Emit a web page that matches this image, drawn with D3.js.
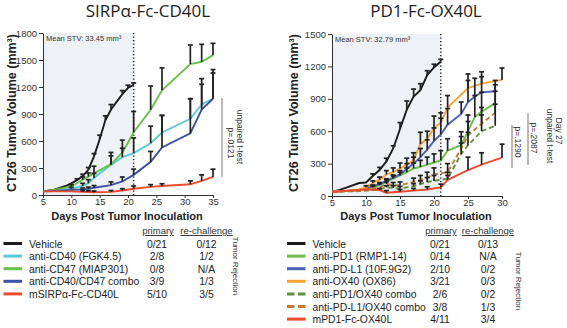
<!DOCTYPE html>
<html>
<head>
<meta charset="utf-8">
<script src="https://cdn.jsdelivr.net/npm/d3@7"></script>
<style>
body { margin: 0; background: #fff; }
svg { display: block; font-family: "Liberation Sans", Arial, sans-serif; }
.axis path, .axis line { stroke: #333; }
.axis text { fill: #333; font-size: 9.5px; font-family: "Liberation Sans", Arial, sans-serif; }
</style>
</head>
<body>
<svg width="567" height="328"></svg>
<script>
// ---- left panel: SIRPa-Fc-CD40L ----
var lDays = [5, 7, 10, 12, 13, 14, 17, 19, 21, 24, 26, 31, 33, 35];
var lVehicleDays = [5, 7, 9, 10, 11, 12, 13, 14, 15, 16, 17, 19, 20, 21];
var lVehicle = [40, 60, 100, 130, 165, 210, 280, 430, 620, 830, 950, 1120, 1190, 1225];
var lVehicleErr = [4, 6, 8, 10, 15, 20, 25, 30, 45, 50, 55, 40, 30, 20];
var lCD40 = [40, 50, 70, 100, 130, 190, 335, 420, 465, 575, 695, 846, 1006, 1070];
var lCD40Err = [3, 5, 15, 30, 40, 50, 100, 100, 170, 190, 190, 224, 287, 324];
var lCD47 = [40, 55, 95, 170, 205, 240, 343, 470, 697, 947, 1163, 1455, 1480, 1554];
var lCD47Err = [3, 6, 20, 30, 40, 80, 130, 140, 231, 264, 249, 211, 194, 131];
var lCombo = [40, 45, 55, 62, 68, 80, 110, 150, 224, 369, 529, 685, 950, 1070];
var lComboErr = [3, 5, 10, 15, 20, 25, 35, 50, 63, 115, 354, 385, 280, 286];
var lFusion = [40, 40, 40, 35, 33, 30, 35, 50, 70, 90, 100, 119, 157, 201];
var lFusionErr = [3, 5, 10, 15, 15, 15, 15, 20, 30, 25, 25, 38, 67, 86];

var lLabels = ["Vehicle", "anti-CD40 (FGK4.5)", "anti-CD47 (MIAP301)", "anti-CD40/CD47 combo", "mSIRP\u03b1-Fc-CD40L"];
var lPrimary = ["0/21", "2/8", "0/8", "3/9", "5/10"];
var lRechallenge = ["0/12", "1/2", "N/A", "1/3", "3/5"];

// ---- right panel: PD1-Fc-OX40L ----
var rVehicleDays = [5, 6, 7, 9, 10, 11, 12, 13, 14, 15, 16, 17, 18, 19, 20, 21];
var rVehicle = [40, 55, 75, 120, 125, 185, 240, 320, 440, 620, 800, 920, 980, 1120, 1190, 1245];
var rVehicleErr = [4, 5, 8, 10, 10, 20, 25, 30, 25, 60, 80, 70, 60, 40, 30, 20];
var rDays = [5, 7, 9, 10, 11, 12, 13, 14, 15, 16, 17, 18, 19, 20, 21, 22, 24, 25, 26, 27, 29];
var rPD1 = [40, 45, 55, 65, 80, 100, 130, 160, 190, 220, 255, 270, 290, 310, 330, 420, 470, 600, 730, 780, 860];
var rPD1Err = [4, 5, 8, 10, 12, 15, 20, 25, 30, 40, 50, 60, 70, 80, 90, 110, 125, 150, 200, 180, 170];
var rPDL1 = [40, 45, 55, 70, 90, 110, 140, 170, 200, 250, 300, 360, 430, 510, 570, 660, 760, 870, 920, 960, 970];
var rPDL1Err = [4, 5, 8, 10, 12, 15, 20, 25, 35, 50, 60, 80, 90, 120, 150, 150, 110, 200, 170, 145, 100];
var rOX40Days = [5, 7, 9, 10, 11, 12, 13, 14, 15, 16, 17, 18, 19, 20, 21, 22, 25, 27, 30];
var rOX40 = [40, 45, 60, 80, 120, 150, 200, 220, 255, 290, 330, 480, 530, 630, 680, 820, 1000, 1040, 1075];
var rOX40Err = [4, 6, 10, 15, 20, 25, 35, 40, 50, 60, 70, 110, 70, 110, 90, 110, 130, 110, 110];
var rComboDays = [5, 9, 10, 12, 13, 14, 15, 17, 18, 19, 20, 22, 24, 25, 27, 29];
var rPD1OX40 = [40, 45, 50, 60, 80, 75, 70, 90, 110, 130, 140, 160, 390, 470, 600, 650];
var rPD1OX40Err = [3, 5, 8, 10, 15, 20, 20, 25, 30, 40, 50, 60, 100, 120, 150, 200];
var rPDL1OX40 = [40, 50, 60, 80, 110, 100, 100, 130, 150, 170, 200, 220, 440, 560, 670, 770];
var rPDL1OX40Err = [3, 5, 8, 10, 20, 25, 30, 35, 40, 50, 60, 80, 110, 130, 150, 200];
var rFusionDays = [5, 10, 12, 13, 15, 17, 19, 21, 22, 25, 27, 30];
var rFusion = [40, 60, 55, 30, 40, 50, 60, 80, 150, 240, 290, 355];
var rFusionErr = [3, 10, 15, 20, 20, 20, 25, 30, 40, 120, 110, 125];

var rLabels = ["Vehicle", "anti-PD1 (RMP1-14)", "anti-PD-L1 (10F.9G2)", "anti-OX40 (OX86)", "anti-PD1/OX40 combo", "anti-PD-L1/OX40 combo", "mPD1-Fc-OX40L"];
var rPrimary = ["0/21", "0/14", "2/10", "3/21", "2/6", "3/8", "4/11"];
var rRechallenge = ["0/13", "N/A", "0/2", "0/3", "0/2", "1/3", "3/4"];

var svg = d3.select("svg");

function makeSeries(days, vals, errs, color, dashed) {
  return { pts: days.map(function(d, i) { return { day: d, v: vals[i], e: errs[i] }; }), color: color, dashed: dashed };
}

var leftSeries = [
  makeSeries(lVehicleDays, lVehicle, lVehicleErr, "#1b1b1b", false),
  makeSeries(lDays, lCD40, lCD40Err, "#5ec8d8", false),
  makeSeries(lDays, lCD47, lCD47Err, "#6cbf4c", false),
  makeSeries(lDays, lCombo, lComboErr, "#3d50a5", false),
  makeSeries(lDays, lFusion, lFusionErr, "#ec4b2e", false)
];
var rightSeries = [
  makeSeries(rVehicleDays, rVehicle, rVehicleErr, "#1b1b1b", false),
  makeSeries(rDays, rPD1, rPD1Err, "#6cbf4c", false),
  makeSeries(rDays, rPDL1, rPDL1Err, "#4a60b5", false),
  makeSeries(rOX40Days, rOX40, rOX40Err, "#f7a336", false),
  makeSeries(rComboDays, rPD1OX40, rPD1OX40Err, "#5f923a", true),
  makeSeries(rComboDays, rPDL1OX40, rPDL1OX40Err, "#c47a3c", true),
  makeSeries(rFusionDays, rFusion, rFusionErr, "#ec4b2e", false)
];

function panel(o) {
  var x = d3.scaleLinear().domain(o.xDomain).range(o.xRange);
  var y = d3.scaleLinear().domain(o.yDomain).range(o.yRange);
  var g = svg.append("g");

  //shaded treatment window
  g.append("rect")
    .attr("x", x(o.xDomain[0])).attr("y", y(o.yDomain[1]))
    .attr("width", x(21) - x(o.xDomain[0]))
    .attr("height", y(0) - y(o.yDomain[1]))
    .attr("fill", "#eef1f5");

  g.append("g").attr("class", "axis")
    .attr("transform", "translate(0," + y(0) + ")")
    .call(d3.axisBottom(x).tickValues(d3.range(o.xDomain[0], o.xDomain[1] + 1, 5))
      .tickSize(3).tickPadding(0).tickSizeOuter(0).tickFormat(d3.format("d")));
  g.append("g").attr("class", "axis")
    .attr("transform", "translate(" + x(o.xDomain[0]) + ",0)")
    .call(d3.axisLeft(y).tickValues(d3.range(0, o.yDomain[1] + 1, 300))
      .tickSize(4).tickPadding(2).tickSizeOuter(0).tickFormat(d3.format("d")));

  //day 21 dotted line
  g.append("line")
    .attr("x1", x(21)).attr("x2", x(21))
    .attr("y1", y(o.yDomain[1])).attr("y2", y(0) + 2)
    .attr("stroke", "#222").attr("stroke-width", 1.5)
    .attr("stroke-dasharray", "1.3,2.2");

  g.append("text")
    .attr("x", x(o.xDomain[0]) + 3).attr("y", y(o.yDomain[1]) + 8)
    .attr("font-size", 7.5).attr("fill", "#333")
    .text(o.stv);

  var line = d3.line().x(function(d) { return x(d.day); }).y(function(d) { return y(d.v); });
  o.series.forEach(function(s) {
    g.append("path").datum(s.pts)
      .attr("d", line)
      .attr("fill", "none")
      .attr("stroke", s.color)
      .attr("stroke-width", 1.9)
      .attr("stroke-dasharray", s.dashed ? "5,3" : null);
  });

  //error bars (upper only)
  o.series.forEach(function(s) {
    var eb = g.append("g").attr("stroke", "#222").attr("stroke-width", 1.7);
    s.pts.forEach(function(p) {
      if (p.e < 12) return;
      eb.append("line")
        .attr("x1", x(p.day)).attr("x2", x(p.day))
        .attr("y1", y(p.v)).attr("y2", y(p.v + p.e));
      eb.append("line")
        .attr("x1", x(p.day) - 2.5).attr("x2", x(p.day) + 2.5)
        .attr("y1", y(p.v + p.e)).attr("y2", y(p.v + p.e));
    });
  });

  //titles
  svg.append("text")
    .attr("x", o.titleX).attr("y", 17)
    .attr("text-anchor", "middle")
    .style("font-family", "'Open Sans', sans-serif")
    .attr("font-size", 17).attr("fill", "#222")
    .text(o.title);
  svg.append("text")
    .attr("transform", "translate(" + o.yTitleX + "," + 113 + ") rotate(-90)")
    .attr("text-anchor", "middle")
    .attr("font-size", 12.5).attr("font-weight", "bold").attr("fill", "#222")
    .text("CT26 Tumor Volume (mm\u00b3)");
  svg.append("text")
    .attr("x", (o.xRange[0] + o.xRange[1]) / 2 - 1).attr("y", 220)
    .attr("text-anchor", "middle")
    .attr("font-size", 11).attr("font-weight", "bold").attr("fill", "#222")
    .text("Days Post Tumor Inoculation");
}

panel({
  xDomain: [5, 35], xRange: [43, 213],
  yDomain: [0, 1800], yRange: [195, 33],
  series: leftSeries,
  stv: "Mean STV: 33.45 mm\u00b3",
  title: "SIRP\u03b1-Fc-CD40L", titleX: 148, yTitleX: 15.5
});
panel({
  xDomain: [5, 30], xRange: [332, 502],
  yDomain: [0, 1500], yRange: [196, 34],
  series: rightSeries,
  stv: "Mean STV: 32.79 mm\u00b3",
  title: "PD1-Fc-OX40L", titleX: 426, yTitleX: 297.5
});

//significance notes (rotated text)
function vText(x, y, txt, size) {
  svg.append("text")
    .attr("transform", "translate(" + x + "," + y + ") rotate(90)")
    .attr("text-anchor", "middle")
    .attr("font-size", size || 8.5).attr("fill", "#333")
    .text(txt);
}
function vLine(x, y1, y2) {
  svg.append("line").attr("x1", x).attr("x2", x).attr("y1", y1).attr("y2", y2)
    .attr("stroke", "#777").attr("stroke-width", 1);
}
vLine(222, 98, 177);
vText(227.5, 143, "p=.0121");
vText(237, 137, "unpaired t-test");

vLine(528, 113, 165);
vText(531, 138, "p=.2087");
vLine(512, 125, 168);
vText(515, 142, "p=.1290");
vText(546.5, 136, "unpaired t-test");
vText(556, 131, "Day 27");

//legends
function legend(o) {
  var g = svg.append("g");
  var rowY = function(i) { return 243.5 + i * 12.6; };
  [["primary", o.primX], ["re-challenge", o.reX]].forEach(function(h) {
    g.append("text").attr("x", h[1]).attr("y", 234)
      .attr("text-anchor", "middle").attr("font-size", 9.5).attr("fill", "#333")
      .attr("text-decoration", "underline")
      .text(h[0]);
  });
  o.labels.forEach(function(lab, i) {
    var s = o.series[i];
    g.append("line")
      .attr("x1", o.x0).attr("x2", o.x0 + 18.5)
      .attr("y1", rowY(i)).attr("y2", rowY(i))
      .attr("stroke", s.color).attr("stroke-width", 3)
      .attr("stroke-dasharray", s.dashed ? "7.5,3.5" : null);
    g.append("text").attr("x", o.x0 + 25.5).attr("y", rowY(i) + 4)
      .attr("font-size", 10.4).attr("fill", "#222").text(lab);
    g.append("text").attr("x", o.primX - 1).attr("y", rowY(i) + 4)
      .attr("text-anchor", "middle").attr("font-size", 10.4).attr("fill", "#222").text(o.primary[i]);
    g.append("text").attr("x", o.reX).attr("y", rowY(i) + 4)
      .attr("text-anchor", "middle").attr("font-size", 10.4).attr("fill", "#222").text(o.rechallenge[i]);
  });
  vText(o.tumorX, o.tumorY, "Tumor Rejection", 8);
}
legend({ x0: 3.5, labels: lLabels, series: leftSeries, primary: lPrimary, rechallenge: lRechallenge,
  primX: 158, reX: 206.5, tumorX: 233, tumorY: 266 });
legend({ x0: 287, labels: rLabels, series: rightSeries, primary: rPrimary, rechallenge: rRechallenge,
  primX: 441, reX: 488, tumorX: 516, tumorY: 281 });
</script>
</body>
</html>
